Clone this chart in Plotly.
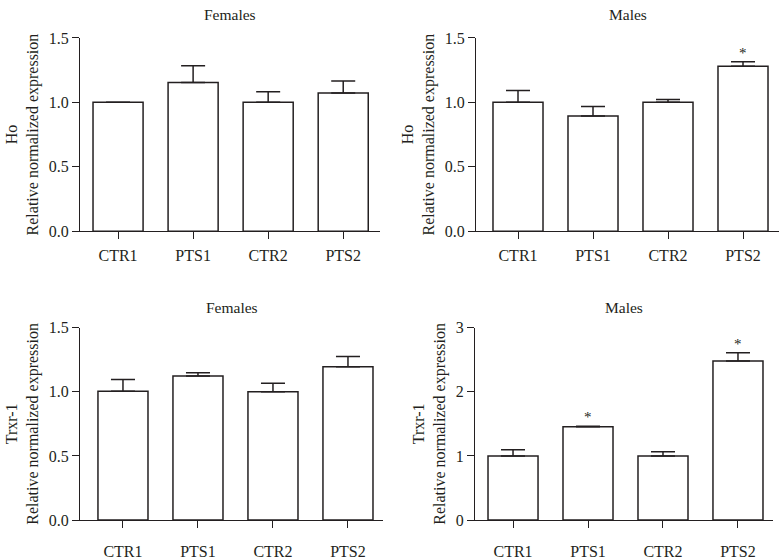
import plotly.graph_objects as go

categories = ["CTR1", "PTS1", "CTR2", "PTS2"]

ho_females = [1.0, 1.155, 1.0, 1.073]
ho_females_err = [0.0, 0.13, 0.083, 0.092]

ho_males = [1.0, 0.895, 1.0, 1.28]
ho_males_err = [0.093, 0.073, 0.023, 0.035]
ho_males_sig = [False, False, False, True]

trx_females = [1.005, 1.123, 1.0, 1.195]
trx_females_err = [0.092, 0.027, 0.067, 0.081]

trx_males = [1.0, 1.457, 1.0, 2.48]
trx_males_err = [0.095, 0.005, 0.065, 0.13]
trx_males_sig = [False, True, False, True]

W, H = 780, 560
FONT = "Liberation Serif"
INK = "#231f20"

def px(x):
    return x / W

def py(y):
    return 1 - y / H

panels = [
    (ho_females, ho_females_err, None, "Females", "Ho", 80, 380, 31, 231, 7, [-0.507, 3.49], [0, 1.5], 0.5, "0.1f", 2),
    (ho_males, ho_males_err, ho_males_sig, "Males", "Ho", 476, 779, 31, 231, 7, [-0.56, 3.48], [0, 1.5], 0.5, "0.1f", 2),
    (trx_females, trx_females_err, None, "Females", "Trxr-1", 80, 383, 331, 530, 310, [-0.573, 3.467], [0, 1.5], 0.5, "0.1f", 10),
    (trx_males, trx_males_err, trx_males_sig, "Males", "Trxr-1", 475, 773, 331, 530, 310, [-0.507, 3.467], [0, 3], 1, "d", 10),
]

fig = go.Figure()
annotations = []
layout = {}
for i, (vals, errs, sig, title, gene, x0, x1, yt, yb, ty, xr, yr, dt, fmt, lso) in enumerate(panels):
    n = "" if i == 0 else str(i + 1)
    fig.add_trace(go.Bar(
        x=categories, y=vals, width=0.667,
        marker=dict(color="white", line=dict(color=INK, width=1.5)),
        error_y=dict(type="data", symmetric=False, array=errs,
                     arrayminus=[0] * len(errs), color=INK, thickness=1.5, width=12),
        xaxis="x" + n, yaxis="y" + n, showlegend=False, hoverinfo="skip",
    ))
    layout["xaxis" + n] = dict(
        domain=[px(x0), px(x1)], anchor="y" + n, range=xr,
        showline=True, linecolor=INK, linewidth=1.3, ticks="outside",
        ticklen=7, tickwidth=1.3, tickcolor=INK, showgrid=False, zeroline=False,
        tickfont=dict(family=FONT, size=16, color=INK), ticklabelstandoff=lso,
        fixedrange=True,
    )
    layout["yaxis" + n] = dict(
        domain=[py(yb), py(yt)], anchor="x" + n, range=yr, dtick=dt, tickformat=fmt,
        showline=True, linecolor=INK, linewidth=1.3, ticks="outside",
        ticklen=7, tickwidth=1.3, tickcolor=INK, showgrid=False, zeroline=False,
        tickfont=dict(family=FONT, size=16, color=INK),
        title=dict(text=gene + "<br>Relative normalized expression",
                   font=dict(family=FONT, size=16, color=INK), standoff=6),
        fixedrange=True,
    )
    annotations.append(dict(
        text=title, xref="paper", yref="paper", x=px((x0 + x1) / 2), y=py(ty),
        xanchor="center", yanchor="middle", showarrow=False,
        font=dict(family=FONT, size=15.5, color=INK),
    ))
    if sig:
        for c, v, e, s in zip(categories, vals, errs, sig):
            if s:
                annotations.append(dict(
                    text="*", xref="x" + n, yref="y" + n, x=c, y=v + e,
                    xanchor="center", yanchor="bottom", yshift=-1, showarrow=False,
                    font=dict(family=FONT, size=15, color=INK),
                ))

fig.update_layout(
    width=W, height=H, margin=dict(l=0, r=0, t=0, b=0),
    paper_bgcolor="white", plot_bgcolor="white",
    annotations=annotations, **layout,
)
fig.write_html("out.html", config={"displayModeBar": False},
               post_script="document.body.style.margin='0';")
